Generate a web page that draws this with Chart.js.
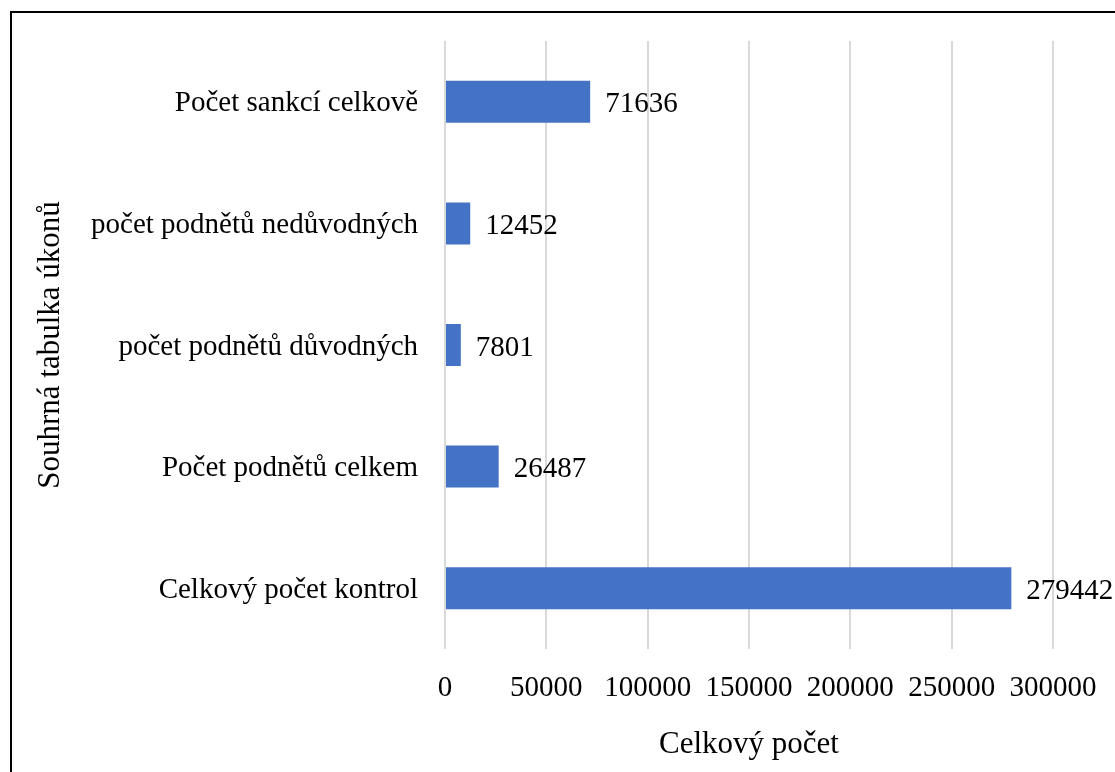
<!DOCTYPE html>
<html>
<head>
<meta charset="utf-8">
<script src="https://cdn.jsdelivr.net/npm/chart.js@4.4.0/dist/chart.umd.min.js"></script>
<style>
  html, body { margin: 0; padding: 0; background: #fff; overflow: hidden; }
  #wrap { position: relative; width: 1115px; height: 772px; }
  #frame { position: absolute; left: 10px; top: 11px; width: 1200px; height: 900px; border: 2px solid #000; }
  #chart { position: absolute; left: 0; top: 0; }
</style>
</head>
<body>
<div id="wrap">
  <div id="frame"></div>
  <canvas id="chart" width="1115" height="772"></canvas>
</div>
<script>
const categories = [
    'Počet sankcí celkově',
    'počet podnětů nedůvodných',
    'počet podnětů důvodných',
    'Počet podnětů celkem',
    'Celkový počet kontrol'
];
const values = [71636, 12452, 7801, 26487, 279442];
const xTicks = [0, 50000, 100000, 150000, 200000, 250000, 300000];

const serif = '"Liberation Serif", "Times New Roman", serif';

// value labels at the end of each bar
const barLabels = {
    id: 'barLabels',
    afterDatasetsDraw(chart) {
        const ctx = chart.ctx;
        const meta = chart.getDatasetMeta(0);
        ctx.save();
        ctx.font = '29px ' + serif;
        ctx.fillStyle = '#000';
        ctx.textAlign = 'left';
        ctx.textBaseline = 'middle';
        meta.data.forEach((bar, i) => {
            ctx.fillText(String(values[i]), bar.x + 15, bar.y + 3);
        });
        ctx.restore();
    }
};

const ctx = document.getElementById('chart').getContext('2d');
const chart = new Chart(ctx, {
    type: 'bar',
    data: {
        labels: categories,
        datasets: [{
            data: values,
            backgroundColor: '#4472C4',
            borderWidth: 0,
            barPercentage: 0.345,
            categoryPercentage: 1
        }]
    },
    options: {
        indexAxis: 'y',
        responsive: false,
        animation: false,
        devicePixelRatio: 1,
        layout: { padding: { left: 0, right: 62, top: 41, bottom: 0 } },
        plugins: {
            legend: { display: false },
            tooltip: { enabled: false }
        },
        scales: {
            x: {
                min: 0,
                max: 300000,
                afterBuildTicks: s => { s.ticks = xTicks.map(v => ({ value: v })); },
                afterFit: s => { s.height = 123; s.paddingLeft = 0; s.paddingRight = 0; },
                grid: { color: '#d9d9d9', lineWidth: 2, drawTicks: false },
                border: { display: false },
                ticks: {
                    padding: 22,
                    color: '#000',
                    font: { family: serif, size: 29 },
                    maxRotation: 0,
                    autoSkip: false,
                    callback: v => String(v)
                },
                title: {
                    display: true,
                    text: 'Celkový počet',
                    color: '#000',
                    font: { family: serif, size: 31 },
                    padding: { top: 0, bottom: 9 }
                }
            },
            y: {
                afterFit: s => { s.width = 445; s.paddingTop = 0; s.paddingBottom = 0; },
                grid: { display: false, drawTicks: false },
                border: { display: false },
                ticks: {
                    padding: 27,
                    labelOffset: 2,
                    color: '#000',
                    font: { family: serif, size: 29 }
                },
                title: {
                    display: true,
                    text: 'Souhrná tabulka úkonů',
                    color: '#000',
                    font: { family: serif, size: 31 },
                    padding: { top: 32, bottom: 0 }
                }
            }
        }
    },
    plugins: [barLabels]
});
</script>
</body>
</html>
